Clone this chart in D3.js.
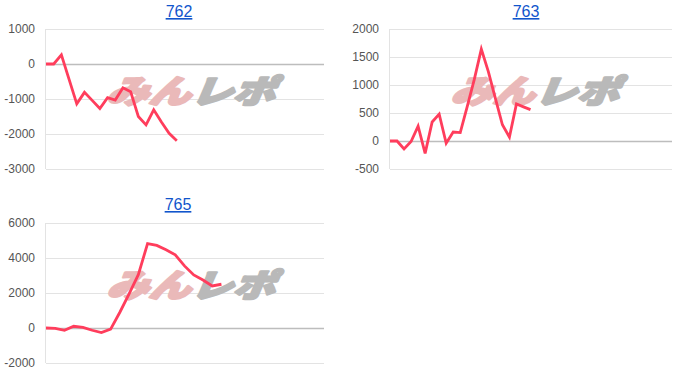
<!DOCTYPE html>
<html>
<head>
<meta charset="utf-8">
<script src="https://cdn.jsdelivr.net/npm/d3@7"></script>
<style>
	body { margin: 0; background: #fff; }
	svg { display: block; }
</style>
</head>
<body>
<div id="chartsArea"></div>
<script>
// machine numbers (chart titles)
var titles = ["762", "763", "765"];

// y tick labels per chart
var ticks762 = [-3000, -2000, -1000, 0, 1000];
var ticks763 = [-500, 0, 500, 1000, 1500, 2000];
var ticks765 = [-2000, 0, 2000, 4000, 6000];

// difference values, one per game step
var diff762 = [0, 0, 260, -440, -1140, -810, -1040, -1270, -960, -1030, -680, -790, -1500, -1740, -1310, -1660, -1980, -2190];
var diff763 = [0, 0, -143, -10, 265, -221, 340, 480, -40, 160, 150, 620, 1100, 1640, 1240, 760, 290, 70, 660, 610, 560];
var diff765 = [0, -20, -130, 100, 40, -130, -260, -60, 900, 1950, 3050, 4820, 4720, 4470, 4180, 3550, 3030, 2740, 2400, 2500];

// number of steps shown on each x axis
var steps = [36, 40, 30];

var getDimensions = function() {
	return [
		{left: 46, top: 29, width: 277, height: 140, titleX: 179, titleY: 17},
		{left: 390, top: 29, width: 281, height: 140, titleX: 526, titleY: 17},
		{left: 46, top: 223, width: 277, height: 140, titleX: 178, titleY: 210}
	];
};

var svg = d3.select("#chartsArea").append("svg")
	.attr("width", 700)
	.attr("height", 388)
	.attr("font-family", "Arial, 'Liberation Sans', sans-serif");

// site logo drawn behind each line
var drawWatermark = function(g) {
	var w = g.append("g")
		.attr("transform", "translate(150,61)")
		.attr("font-family", "'Noto Sans CJK JP', sans-serif")
		.attr("font-weight", 900)
		.attr("font-size", 40)
		.attr("stroke-linejoin", "round");
	w.append("text")
		.attr("transform", "translate(-84,0) scale(1.05,0.8) skewX(-18)")
		.attr("dy", "0.42em")
		.attr("fill", "#eab9b9")
		.attr("stroke", "#eab9b9")
		.attr("stroke-width", 3)
		.text("みん");
	w.append("text")
		.attr("transform", "translate(0,0) scale(1.05,0.8) skewX(-18)")
		.attr("dy", "0.42em")
		.attr("fill", "#b9b9b9")
		.attr("stroke", "#b9b9b9")
		.attr("stroke-width", 3)
		.text("レポ");
};

var makeGraph = function(data, tickValues, nSteps, title, dim) {

	var g = svg.append("g")
		.attr("transform", "translate(" + dim.left + "," + dim.top + ")");

	var x = d3.scaleLinear()
		.domain([0, nSteps])
		.range([0, dim.width]);

	var y = d3.scaleLinear()
		.domain([tickValues[0], tickValues[tickValues.length - 1]])
		.range([dim.height, 0]);

	// horizontal gridlines
	g.append("g")
		.attr("class", "grid")
		.call(d3.axisLeft(y)
			.tickValues(tickValues)
			.tickSize(-dim.width - 1)
			.tickFormat("")
		)
		.call(function(s) { s.select(".domain").remove(); })
		.selectAll("line")
		.attr("stroke", function(d) { return d === 0 ? "#bdbdbd" : "#e3e3e3"; })
		.attr("stroke-width", function(d) { return d === 0 ? 1.5 : 1.2; });

	// vertical axis line
	g.append("line")
		.attr("x1", -0.5)
		.attr("x2", -0.5)
		.attr("y1", 0)
		.attr("y2", dim.height)
		.attr("stroke", "#e3e3e3");

	drawWatermark(g);

	// tick labels
	g.append("g")
		.selectAll("text")
		.data(tickValues)
		.enter().append("text")
		.attr("x", -11)
		.attr("y", function(d) { return y(d); })
		.attr("dy", "0.35em")
		.attr("text-anchor", "end")
		.attr("font-size", 12)
		.attr("fill", "#555")
		.text(function(d) { return d; });

	var line = d3.line()
		.x(function(d, i) { return x(i); })
		.y(function(d) { return y(d); });

	g.append("path")
		.datum(data)
		.attr("fill", "none")
		.attr("stroke", "#ff3d5c")
		.attr("stroke-width", 2.8)
		.attr("stroke-linejoin", "miter")
		.attr("d", line);

	svg.append("text")
		.attr("x", dim.titleX)
		.attr("y", dim.titleY)
		.attr("text-anchor", "middle")
		.attr("font-size", 16)
		.attr("fill", "#1155cc")
		.attr("text-decoration", "underline")
		.text(title);
};

var dims = getDimensions();
makeGraph(diff762, ticks762, steps[0], titles[0], dims[0]);
makeGraph(diff763, ticks763, steps[1], titles[1], dims[1]);
makeGraph(diff765, ticks765, steps[2], titles[2], dims[2]);
</script>
</body>
</html>
